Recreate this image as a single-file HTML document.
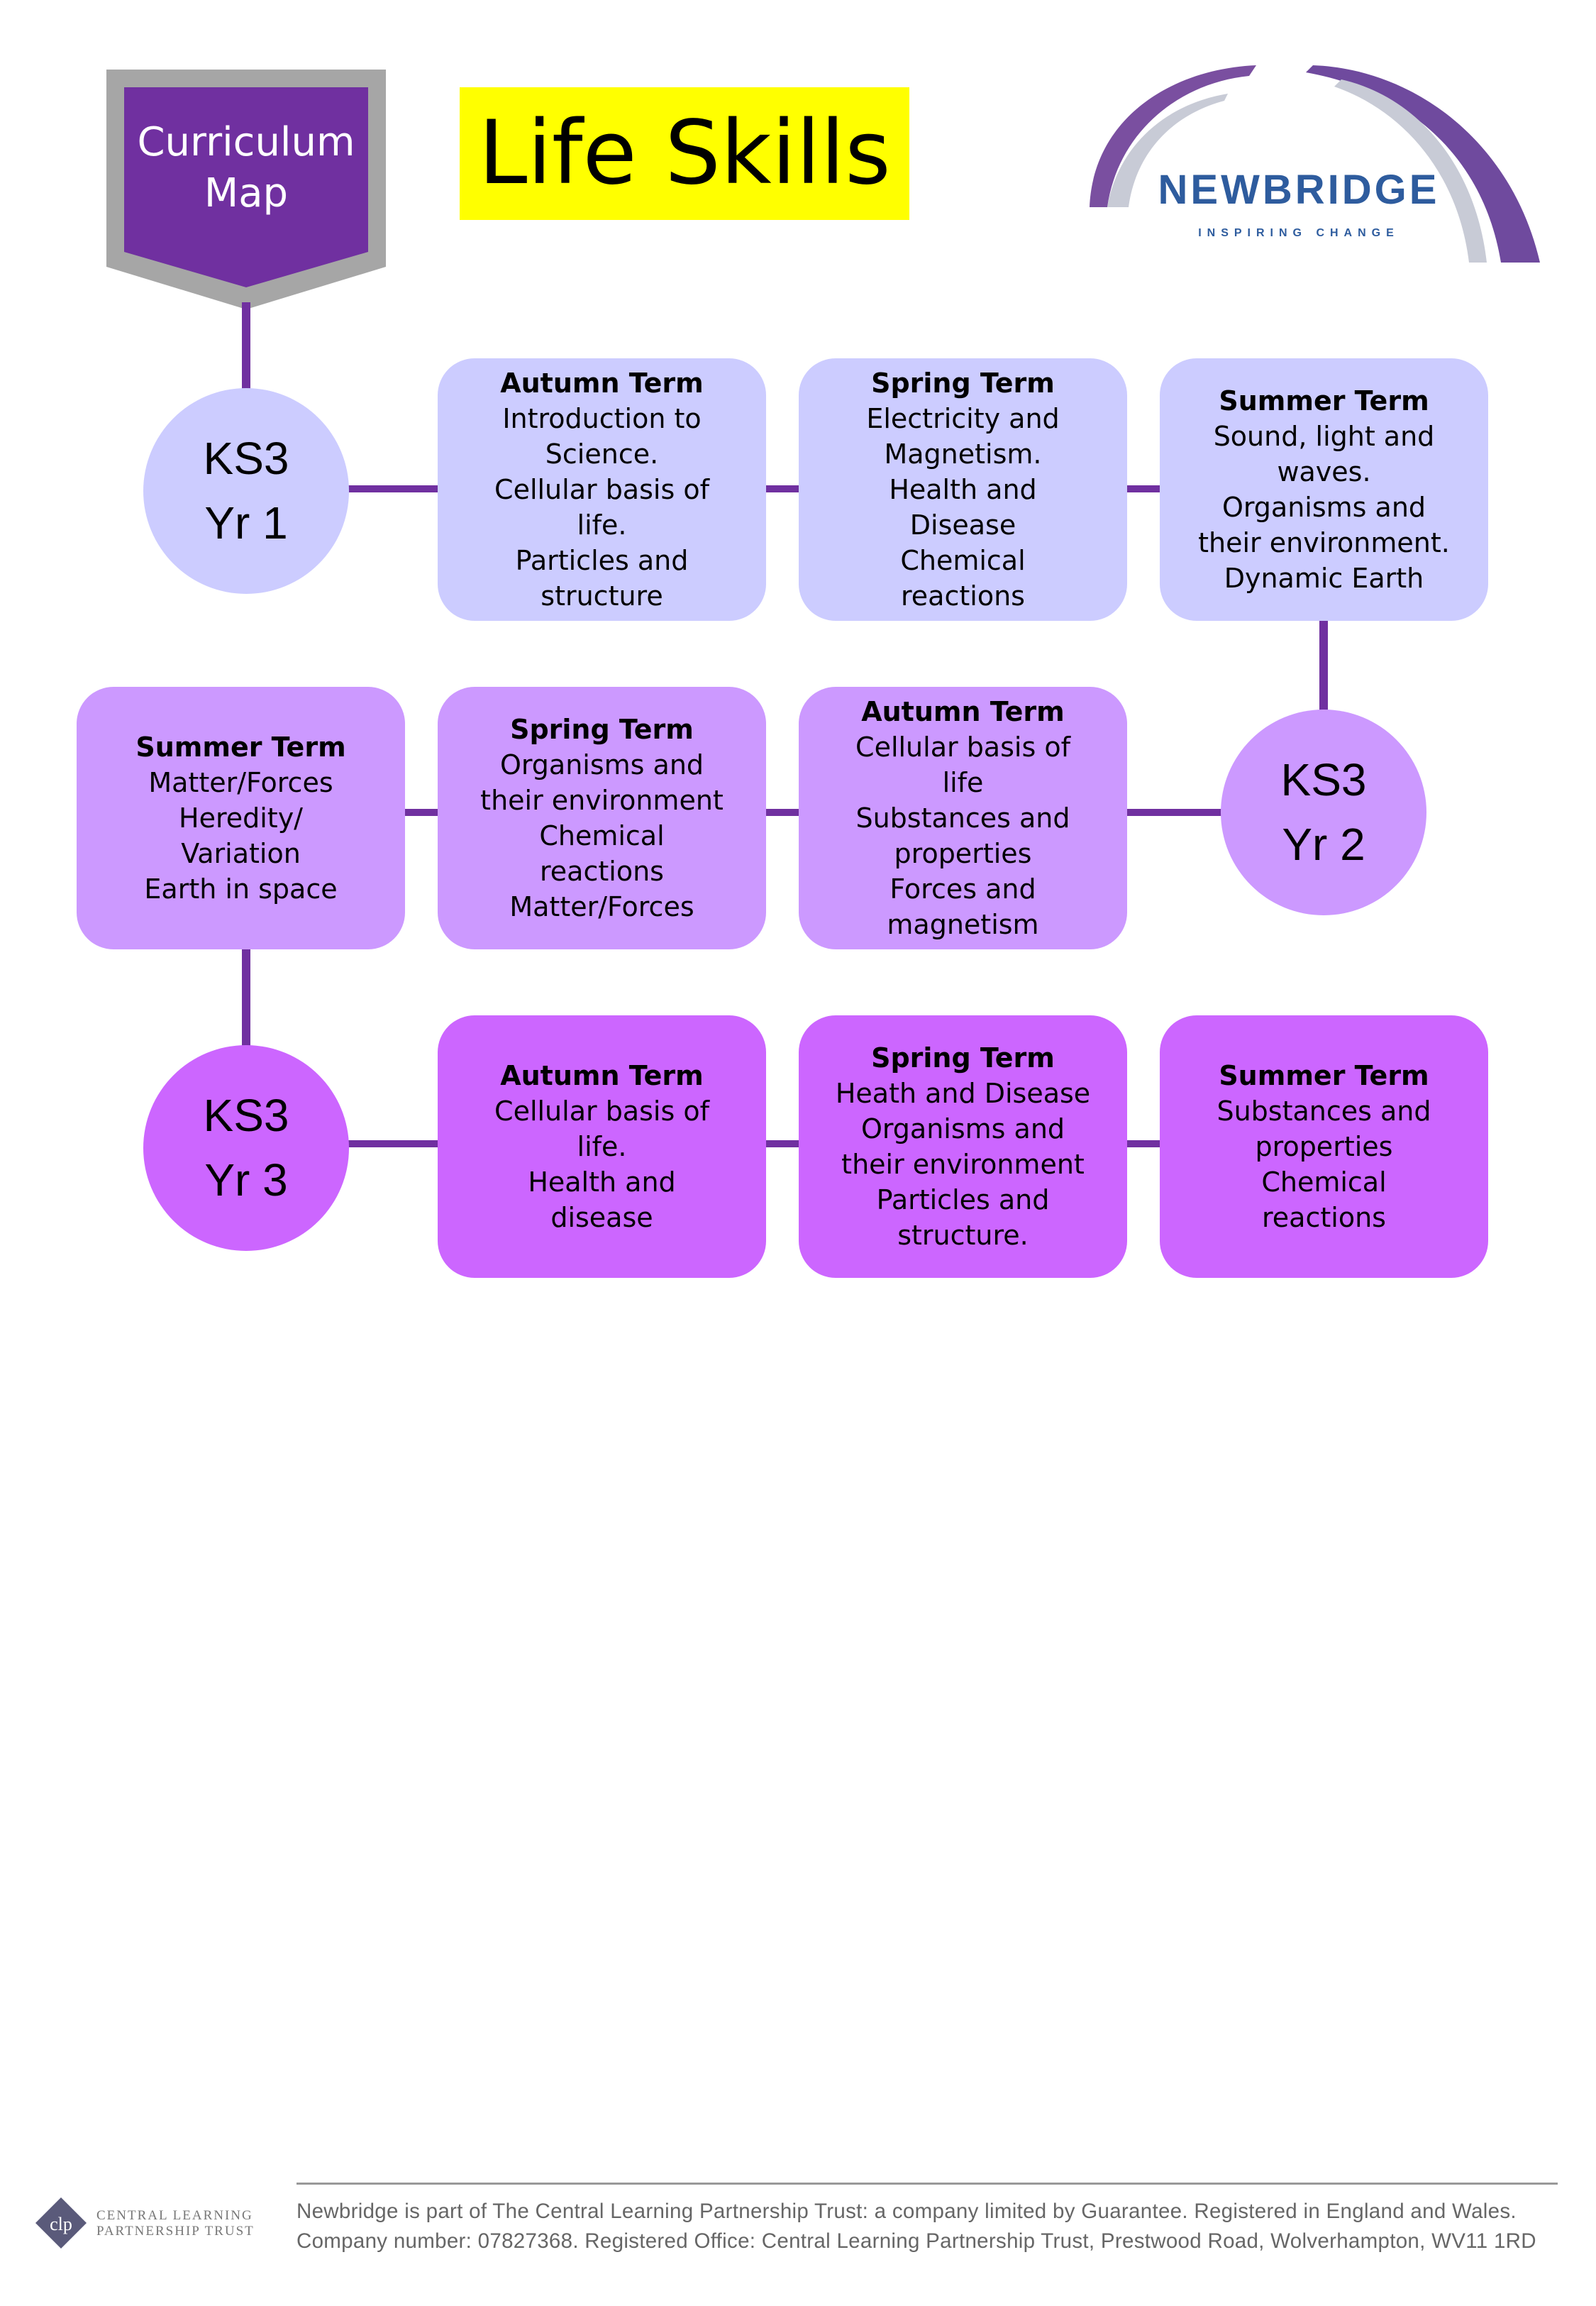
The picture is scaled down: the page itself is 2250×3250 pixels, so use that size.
<!DOCTYPE html>
<html><head><meta charset="utf-8"><style>
body{margin:0;width:2250px;height:3250px;background:#fff;position:relative;overflow:hidden;font-family:"Comic Sans MS","DejaVu Sans",sans-serif}
.a{position:absolute}
.box{position:absolute;width:463px;height:370px;border-radius:52px;display:flex;align-items:center;justify-content:center;text-align:center;font-size:38px;line-height:50px;color:#000}
.box b{font-weight:bold}
.c{position:absolute;width:290px;height:290px;border-radius:50%;display:flex;align-items:center;justify-content:center;text-align:center;font-family:"Liberation Sans",sans-serif;font-size:64px;line-height:91px}
.l{position:absolute;background:#7030a0}
.r1{background:#ccccff}.r2{background:#cc99ff}.r3{background:#cc66ff}
</style></head><body>
<svg class="a" style="left:0;top:0" width="2250" height="460">
<polygon points="150,98 544,98 544,376 347,436 150,376" fill="#a6a6a6"/>
<polygon points="175,123 519,123 519,355 347,405 175,355" fill="#7030a0"/>
</svg>
<div class="a" style="left:175px;top:165px;width:344px;text-align:center;color:#fff;font-size:56px;line-height:72px">Curriculum<br>Map</div>
<div class="a" style="left:648px;top:123px;width:634px;height:187px;background:#ffff00;font-size:124px;line-height:187px;text-align:center">Life Skills</div>
<svg class="a" style="left:1531px;top:87px" width="645" height="285">
<path d="M5,205 C10,80 120,10 240,5 L230,20 C130,30 45,100 30,205 Z" fill="#7a4fa0"/>
<path d="M320,5 C460,10 600,110 640,283 L585,283 C560,130 450,40 310,15 Z" fill="#6f4a9e"/>
<path d="M360,25 C470,50 550,150 565,283 L540,283 C525,160 450,70 350,35 Z" fill="#c8cbd6"/>
<path d="M30,205 C45,120 110,60 200,45 L195,55 C120,75 70,130 60,205 Z" fill="#c8cbd6"/>
<text x="300" y="200" text-anchor="middle" font-family="Liberation Sans,sans-serif" font-size="58" font-weight="bold" fill="#2e5c9e" letter-spacing="4">NEWBRIDGE</text>
<text x="300" y="246" text-anchor="middle" font-family="Liberation Sans,sans-serif" font-size="16" font-weight="bold" fill="#2e5c9e" letter-spacing="8">INSPIRING CHANGE</text>
</svg>
<div class="l" style="left:341px;top:426px;width:12px;height:130px"></div>
<div class="l" style="left:1860px;top:875px;width:12px;height:130px"></div>
<div class="l" style="left:341px;top:1338px;width:12px;height:145px"></div>
<div class="l" style="left:490px;top:684px;width:1590px;height:10px"></div>
<div class="l" style="left:560px;top:1140px;width:1310px;height:10px"></div>
<div class="l" style="left:490px;top:1607px;width:1590px;height:10px"></div>
<div class="c r1" style="left:202px;top:547px">KS3<br>Yr 1</div>
<div class="box r1" style="left:617px;top:505px"><div><b>Autumn Term</b><br>Introduction to<br>Science.<br>Cellular basis of<br>life.<br>Particles and<br>structure</div></div>
<div class="box r1" style="left:1126px;top:505px"><div><b>Spring Term</b><br>Electricity and<br>Magnetism.<br>Health and<br>Disease<br>Chemical<br>reactions</div></div>
<div class="box r1" style="left:1635px;top:505px"><div><b>Summer Term</b><br>Sound, light and<br>waves.<br>Organisms and<br>their environment.<br>Dynamic Earth</div></div>
<div class="box r2" style="left:108px;top:968px"><div><b>Summer Term</b><br>Matter/Forces<br>Heredity/<br>Variation<br>Earth in space</div></div>
<div class="box r2" style="left:617px;top:968px"><div><b>Spring Term</b><br>Organisms and<br>their environment<br>Chemical<br>reactions<br>Matter/Forces</div></div>
<div class="box r2" style="left:1126px;top:968px"><div><b>Autumn Term</b><br>Cellular basis of<br>life<br>Substances and<br>properties<br>Forces and<br>magnetism</div></div>
<div class="c r2" style="left:1721px;top:1000px">KS3<br>Yr 2</div>
<div class="c r3" style="left:202px;top:1473px">KS3<br>Yr 3</div>
<div class="box r3" style="left:617px;top:1431px"><div><b>Autumn Term</b><br>Cellular basis of<br>life.<br>Health and<br>disease</div></div>
<div class="box r3" style="left:1126px;top:1431px"><div><b>Spring Term</b><br>Heath and Disease<br>Organisms and<br>their environment<br>Particles and<br>structure.</div></div>
<div class="box r3" style="left:1635px;top:1431px"><div><b>Summer Term</b><br>Substances and<br>properties<br>Chemical<br>reactions</div></div>
<div class="a" style="left:418px;top:3076px;width:1778px;height:3px;background:#999"></div>
<div class="a" style="left:418px;top:3096px;font-family:'Liberation Sans',sans-serif;font-size:29.5px;line-height:42px;color:#666;letter-spacing:0.3px;white-space:nowrap">Newbridge is part of The Central Learning Partnership Trust: a company limited by Guarantee. Registered in England and Wales.<br>Company number: 07827368. Registered Office: Central Learning Partnership Trust, Prestwood Road, Wolverhampton, WV11 1RD</div>
<svg class="a" style="left:48px;top:3095px" width="80" height="80"><polygon points="38,2 74,38 38,74 2,38" fill="#5a5a7a"/><text x="38" y="48" text-anchor="middle" font-size="26" fill="#fff" font-family="Liberation Serif,serif">clp</text></svg>
<div class="a" style="left:136px;top:3112px;font-family:'Liberation Serif',serif;font-size:19px;line-height:22px;color:#777;letter-spacing:2px">CENTRAL LEARNING<br>PARTNERSHIP TRUST</div>
</body></html>
